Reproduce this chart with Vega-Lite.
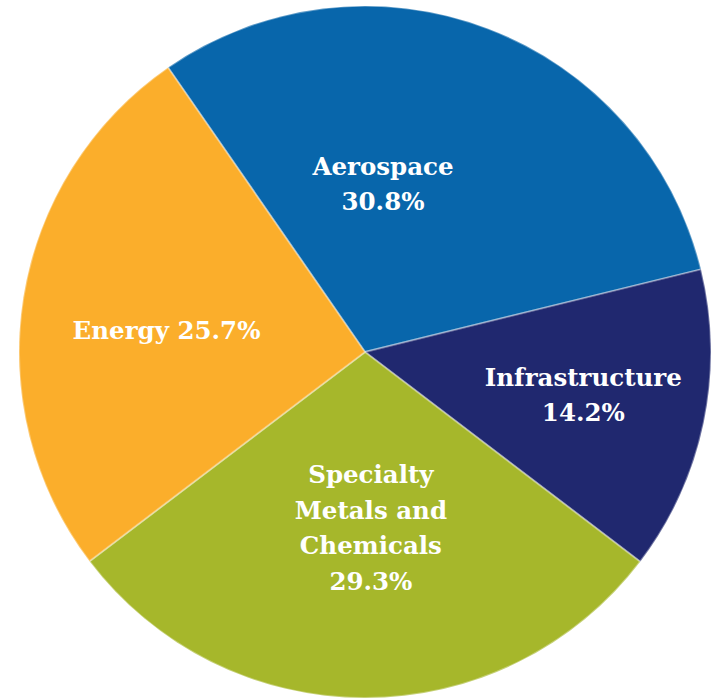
{
  "$schema": "https://vega.github.io/schema/vega-lite/v6.json",
  "width": 692,
  "height": 694,
  "autosize": {"type": "none"},
  "padding": {"left": 19, "top": 5, "right": 0, "bottom": 0},
  "background": "#ffffff",
  "view": {"stroke": null},
  "config": {"text": {"font": "DejaVu Serif", "fontWeight": "bold", "fontSize": 24.5, "fill": "#ffffff", "lineBreak": "\n", "lineHeight": 35, "align": "center", "baseline": "middle"}},
  "data": {
    "values": [
      {"segment": "Aerospace", "share": 30.8, "order": 1, "label": "Aerospace\n30.8%"},
      {"segment": "Infrastructure", "share": 14.2, "order": 2, "label": "Infrastructure\n14.2%"},
      {"segment": "Specialty Metals and Chemicals", "share": 29.3, "order": 3, "label": "Specialty\nMetals and\nChemicals\n29.3%"},
      {"segment": "Energy", "share": 25.7, "order": 4, "label": "Energy 25.7%"}
    ]
  },
  "encoding": {
    "theta": {"field": "share", "type": "quantitative", "stack": true, "scale": {"range": [-0.6056, 5.6776]}},
    "order": {"field": "order", "type": "quantitative"}
  },
  "layer": [
    {
      "mark": {"type": "arc", "stroke": "#ffffff", "strokeOpacity": 0.35, "strokeWidth": 2},
      "encoding": {
        "color": {
          "field": "segment",
          "type": "nominal",
          "legend": null,
          "scale": {
            "domain": ["Aerospace", "Infrastructure", "Specialty Metals and Chemicals", "Energy"],
            "range": ["#0866ab", "#20286f", "#a6b72b", "#fbae2b"]
          }
        }
      }
    },
    {
      "mark": {"type": "text", "radius": 175, "dx": -44, "dy": -20, "font": "DejaVu Serif", "fontWeight": "bold", "fontSize": 24.5, "fill": "#ffffff", "lineBreak": "\n", "lineHeight": 35, "align": "center", "baseline": "middle"},
      "encoding": {"text": {"condition": {"test": "datum.segment === 'Aerospace'", "field": "label"}, "value": ""}}
    },
    {
      "mark": {"type": "text", "radius": 223, "dy": -18, "font": "DejaVu Serif", "fontWeight": "bold", "fontSize": 24.5, "fill": "#ffffff", "lineBreak": "\n", "lineHeight": 35, "align": "center", "baseline": "middle"},
      "encoding": {"text": {"condition": {"test": "datum.segment === 'Infrastructure'", "field": "label"}, "value": ""}}
    },
    {
      "mark": {"type": "text", "radius": 176, "dx": 6, "dy": -52, "font": "DejaVu Serif", "fontWeight": "bold", "fontSize": 24.5, "fill": "#ffffff", "lineBreak": "\n", "lineHeight": 35.7, "align": "center", "baseline": "middle"},
      "encoding": {"text": {"condition": {"test": "datum.segment === 'Specialty Metals and Chemicals'", "field": "label"}, "value": ""}}
    },
    {
      "mark": {"type": "text", "radius": 201, "dy": 12, "font": "DejaVu Serif", "fontWeight": "bold", "fontSize": 24.5, "fill": "#ffffff", "lineBreak": "\n", "lineHeight": 35, "align": "center", "baseline": "middle"},
      "encoding": {"text": {"condition": {"test": "datum.segment === 'Energy'", "field": "label"}, "value": ""}}
    }
  ]
}
